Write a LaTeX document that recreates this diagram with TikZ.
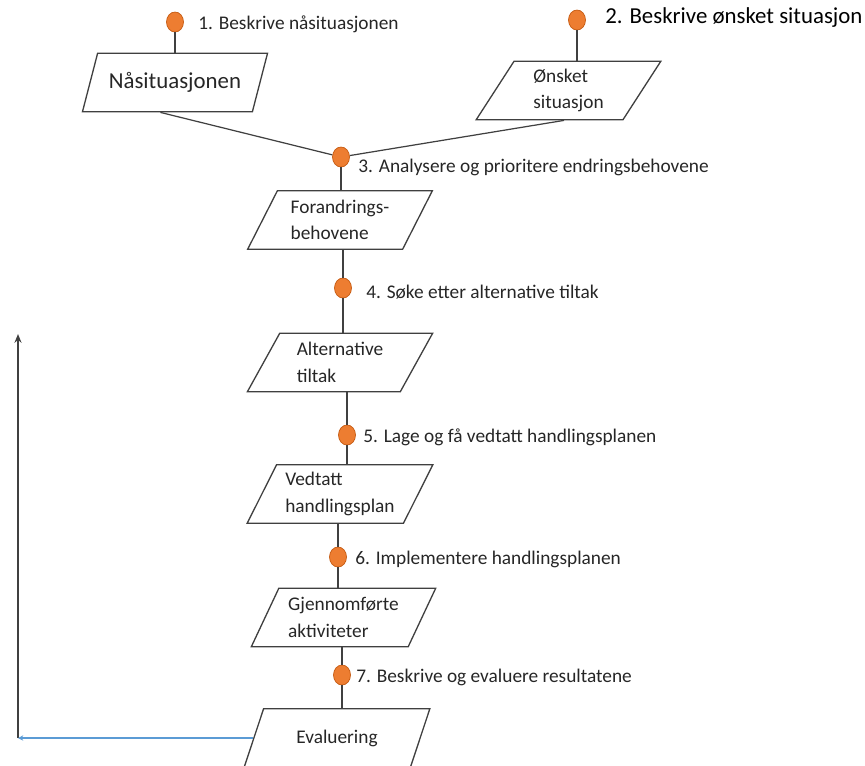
\documentclass[tikz,border=0pt]{standalone}
\usepackage{fontspec}
\setmainfont{Carlito}
\usepackage{tikz}
\usetikzlibrary{positioning,arrows.meta,calc,shapes.geometric}
\definecolor{ink}{HTML}{262626}
\definecolor{edge}{HTML}{404040}
\definecolor{dotfill}{HTML}{ED7D31}
\definecolor{dotline}{HTML}{C55A11}
\definecolor{backblue}{HTML}{5B9BD5}
\tikzset{
  par/.style={trapezium,trapezium left angle=60,trapezium right angle=120,trapezium stretches=true,draw=edge,line width=0.75pt,minimum width=3.72cm,minimum height=1.17cm,inner xsep=2pt,inner ysep=1pt,align=left,text=ink,font=\fontsize{11}{15}\selectfont},
  dot/.style={ellipse,fill=dotfill,draw=dotline,line width=0.4pt,minimum width=0.34cm,minimum height=0.40cm,inner sep=0pt},
  note/.style={anchor=west,inner sep=0pt,text=ink,font=\fontsize{11}{13}\selectfont},
  link/.style={edge,line width=0.7pt},
  arr/.style={-{Stealth[length=5pt,width=4pt]},line width=0.7pt},
}

\begin{document}
\begin{tikzpicture}[x=0.02cm,y=-0.02cm]
\useasboundingbox (0,0) rectangle (865,765);
% the states
\node[par,font=\fontsize{13}{15}\selectfont] (na) at (175,82.5) {Nåsituasjonen};
\node[par] (onsket) at (568.5,90.5) {Ønsket\\situasjon};
\node[par] (behov) at (340,220) {Forandrings-\\behovene};
\node[par] (alt) at (340,362.5) {Alternative\\tiltak};
\node[par] (plan) at (340,494) {Vedtatt\\handlingsplan};
\node[par] (akt) at (343.5,617.5) {Gjennomførte\\aktiviteter};
\node[par] (eval) at (337,738) {Evaluering};
% the steps
\node[dot] (d1) at (175,22) {};
\node[dot] (d2) at (577,20) {};
\node[dot] (d3) at (341,157) {};
\node[dot] (d4) at (343,288) {};
\node[dot] (d5) at (347,435) {};
\node[dot] (d6) at (338,557) {};
\node[dot] (d7) at (342,675) {};
\node[note] (s1) at (198,24) {1. Beskrive nåsituasjonen};
\node[note,text=black,font=\fontsize{13}{15}\selectfont] (s2) at (605,18) {2. Beskrive ønsket situasjon};
\node[note] (s3) at (358,167) {3. Analysere og prioritere endringsbehovene};
\node[note] (s4) at (366,292) {4. Søke etter alternative tiltak};
\node[note] (s5) at (363,437) {5. Lage og få vedtatt handlingsplanen};
\node[note] (s6) at (355,559) {6. Implementere handlingsplanen};
\node[note] (s7) at (356,677) {7. Beskrive og evaluere resultatene};
% links
\draw[link] (d1) -- (d1 |- na.north);
\draw[link] (d2) -- (d2 |- onsket.north);
\draw[link] ($(na.bottom left corner)!0.46!(na.bottom right corner)$) -- (d3);
\draw[link] ($(onsket.bottom left corner)!0.6!(onsket.bottom right corner)$) -- (d3);
\draw[link] (d3) -- (d3 |- behov.north);
\foreach \d/\a/\b in {d4/behov/alt,d5/alt/plan,d6/plan/akt,d7/akt/eval}{
  \draw[link] (\d |- \a.south) -- (\d);
  \draw[link] (\d) -- (\d |- \b.north);
}
% back to the start
\coordinate (corner) at (18,738);
\coordinate (top) at (18,334);
\draw[edge,line width=0.7pt,-{Stealth[length=5pt,width=4pt]}] (corner) -- (top);
\draw[backblue,line width=0.6pt,-{Stealth[length=3pt,width=3pt]}] (eval.left side) -- (corner);
\end{tikzpicture}
\end{document}
